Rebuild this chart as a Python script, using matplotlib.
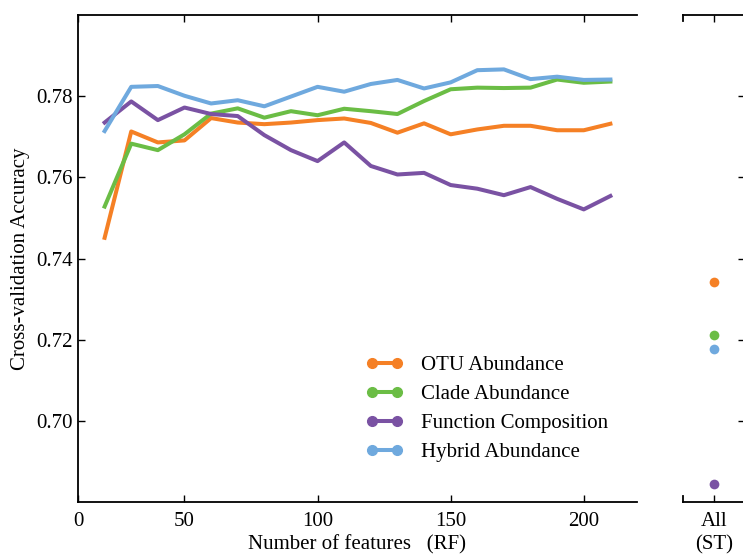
import matplotlib
matplotlib.use("Agg")
import matplotlib.pyplot as plt
from matplotlib.lines import Line2D

plt.rcParams['font.family'] = ['Liberation Serif', 'DejaVu Serif']

# number of features selected by RF
n_features = [20, 30, 40, 50, 60, 70, 80, 90, 100, 110,
              120, 130, 140, 150, 160, 170, 180, 190, 200, 210]

otu = [0.7451, 0.7713, 0.7686, 0.7691, 0.7746, 0.7735, 0.7731, 0.7735, 0.7741, 0.7745,
       0.7734, 0.7710, 0.7733, 0.7706, 0.7718, 0.7727, 0.7727, 0.7716, 0.7716, 0.7732]
clade = [0.7528, 0.7683, 0.7667, 0.7706, 0.7757, 0.7770, 0.7747, 0.7763, 0.7753, 0.7769,
         0.7763, 0.7756, 0.7788, 0.7817, 0.7821, 0.7820, 0.7821, 0.7841, 0.7833, 0.7836]
function = [0.7735, 0.7787, 0.7741, 0.7772, 0.7756, 0.7751, 0.7704, 0.7667, 0.7640, 0.7686,
            0.7628, 0.7607, 0.7611, 0.7581, 0.7572, 0.7556, 0.7576, 0.7547, 0.7521, 0.7554]
hybrid = [0.7714, 0.7823, 0.7825, 0.7801, 0.7782, 0.7790, 0.7775, 0.7799, 0.7823, 0.7811,
          0.7830, 0.7840, 0.7819, 0.7834, 0.7864, 0.7866, 0.7842, 0.7848, 0.7840, 0.7841]

# all features, stability test
st_labels = ['All']
st_otu = [0.7343]
st_clade = [0.7212]
st_function = [0.6844]
st_hybrid = [0.7178]

names = ['OTU Abundance', 'Clade Abundance', 'Function Composition', 'Hybrid Abundance']
colors = ['#f58025', '#6bbd45', '#7a52a3', '#6fa9de']

x_ticks = [10, 50, 100, 150, 200]
x_ticklabels = ['0', '50', '100', '150', '200']
y_ticks = [0.70, 0.72, 0.74, 0.76, 0.78]

W, H = 743, 554
fig = plt.figure(figsize=(W / 100, H / 100), dpi=100)
ax = fig.add_axes([78 / W, 52 / H, (637 - 78) / W, (502 - 15) / H])
ax2 = fig.add_axes([683 / W, 52 / H, (745 - 683) / W, (502 - 15) / H])

fs = 15
for ys, name, c in zip([otu, clade, function, hybrid], names, colors):
    ax.plot(n_features, ys, '-', color=c, lw=2.9, label=name)

ax.set_xlim(10, 220)
ax.set_ylim(0.68, 0.80)
ax.set_xticks(x_ticks)
ax.set_xticklabels(x_ticklabels)
ax.set_yticks(y_ticks)
ax.yaxis.set_major_formatter(plt.FormatStrFormatter('%.2f'))
ax.spines['right'].set_visible(False)
for s in ['left', 'bottom', 'top']:
    ax.spines[s].set_linewidth(1.3)
ax.tick_params(axis='x', direction='in', top=True, bottom=True, length=5,
               width=1, labelsize=fs, pad=7)
ax.tick_params(axis='y', direction='in', left=True, right=False, length=5,
               width=1, labelsize=fs, pad=4)
ax.set_xlabel('Number of features   (RF)', fontsize=fs, labelpad=3)
ax.set_ylabel('Cross-validation Accuracy', fontsize=fs, labelpad=4)

# legend handles: line with a dot at each end
handles = [Line2D([0], [0], color=c, lw=2.9, marker='o', ms=7) for c in colors]
ax.legend(handles, names, loc='upper left', bbox_to_anchor=(0.515, 0.30),
          frameon=False, fontsize=fs, numpoints=2, handlelength=1.8,
          handletextpad=0.85, labelspacing=0.45, borderpad=0, borderaxespad=0)

for ys, c in zip([st_otu, st_clade, st_function, st_hybrid], colors):
    ax2.plot(st_labels, ys, 'o', color=c, ms=7, mec='none')
ax2.set_xlim(-0.5, 0.5)
ax2.set_ylim(0.68, 0.80)
ax2.set_yticks(y_ticks)
ax2.spines['left'].set_visible(False)
ax2.spines['right'].set_visible(False)
for s in ['bottom', 'top']:
    ax2.spines[s].set_linewidth(1.3)
ax2.tick_params(axis='x', direction='in', top=True, bottom=True, length=5,
                width=1, labelsize=fs, pad=7)
ax2.tick_params(axis='y', direction='in', left=False, right=True, labelleft=False,
                labelright=False, length=5, width=1)
ax2.set_xlabel('(ST)', fontsize=fs, labelpad=3)
# small caps at the left ends of the panel's spines
for y0, y1 in [(1.0, 0.988), (0.0, 0.012)]:
    ax2.plot([0, 0], [y0, y1], color='black', lw=1.3, transform=ax2.transAxes,
             clip_on=False)

fig.savefig('out.png', dpi=100)
